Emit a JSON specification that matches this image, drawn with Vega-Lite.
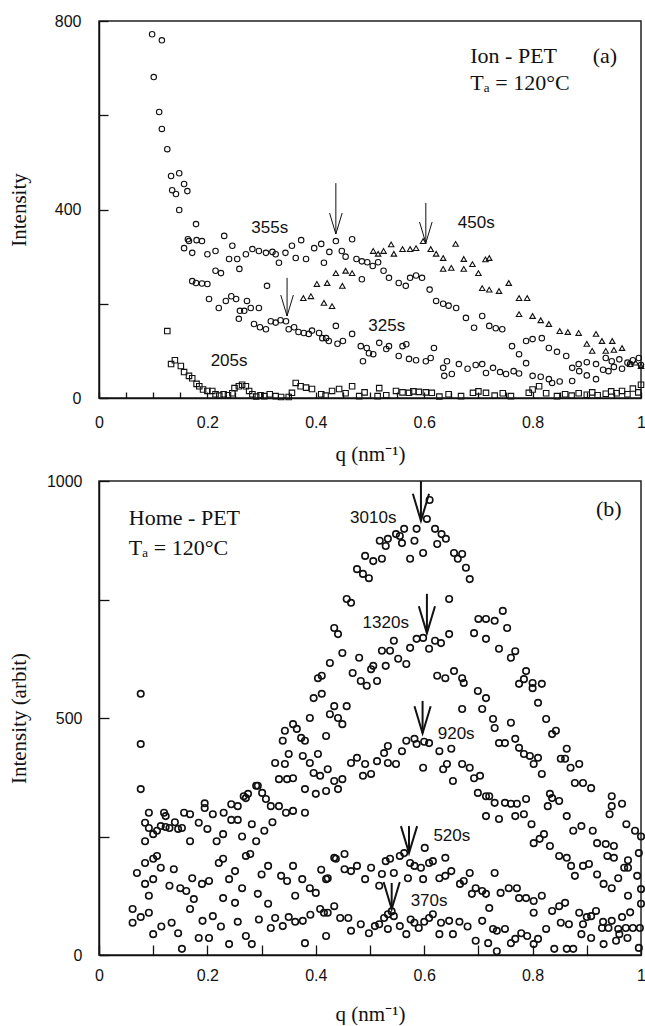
{
"$schema": "https://vega.github.io/schema/vega-lite/v6.json",
"background": "white",
"padding": {"left": 7, "top": 12, "right": 2, "bottom": 0},
"spacing": 83,
"bounds": "flush",
"config": {
  "view": {"stroke": "#222", "strokeWidth": 1.5},
  "axis": {"grid": false, "domainColor": "#111", "domainWidth": 1.5, "tickColor": "#111", "tickWidth": 1.3, "labelFont": "Liberation Sans", "labelFontSize": 16, "labelColor": "#111", "titleFont": "Liberation Serif", "titleFontSize": 21, "titleFontWeight": "normal", "titleColor": "#111", "labelFlush": false, "labelOverlap": false}
},
"datasets": {
  "a": [
{"s":"205s","q":0.126,"I":142},{"s":"205s","q":0.133,"I":72},{"s":"205s","q":0.14,"I":80},{"s":"205s","q":0.151,"I":68},{"s":"205s","q":0.157,"I":55},{"s":"205s","q":0.166,"I":47},{"s":"205s","q":0.172,"I":42},{"s":"205s","q":0.18,"I":30},{"s":"205s","q":0.185,"I":25},{"s":"205s","q":0.192,"I":18},{"s":"205s","q":0.2,"I":15},{"s":"205s","q":0.209,"I":15},{"s":"205s","q":0.215,"I":8},{"s":"205s","q":0.222,"I":5},{"s":"205s","q":0.23,"I":8},{"s":"205s","q":0.238,"I":6},{"s":"205s","q":0.246,"I":10},{"s":"205s","q":0.25,"I":21},{"s":"205s","q":0.258,"I":25},{"s":"205s","q":0.264,"I":28},{"s":"205s","q":0.271,"I":25},{"s":"205s","q":0.277,"I":15},{"s":"205s","q":0.283,"I":8},{"s":"205s","q":0.29,"I":3},{"s":"205s","q":0.298,"I":6},{"s":"205s","q":0.305,"I":4},{"s":"205s","q":0.315,"I":8},{"s":"205s","q":0.326,"I":4},{"s":"205s","q":0.336,"I":2},{"s":"205s","q":0.35,"I":2},{"s":"205s","q":0.356,"I":11},{"s":"205s","q":0.363,"I":32},{"s":"205s","q":0.372,"I":25},{"s":"205s","q":0.382,"I":22},{"s":"205s","q":0.393,"I":19},{"s":"205s","q":0.41,"I":8},{"s":"205s","q":0.418,"I":5},{"s":"205s","q":0.43,"I":15},{"s":"205s","q":0.443,"I":19},{"s":"205s","q":0.455,"I":10},{"s":"205s","q":0.467,"I":25},{"s":"205s","q":0.48,"I":4},{"s":"205s","q":0.49,"I":12},{"s":"205s","q":0.514,"I":4},{"s":"205s","q":0.517,"I":21},{"s":"205s","q":0.53,"I":6},{"s":"205s","q":0.548,"I":15},{"s":"205s","q":0.56,"I":12},{"s":"205s","q":0.572,"I":11},{"s":"205s","q":0.58,"I":14},{"s":"205s","q":0.59,"I":13},{"s":"205s","q":0.603,"I":12},{"s":"205s","q":0.614,"I":11},{"s":"205s","q":0.628,"I":3},{"s":"205s","q":0.645,"I":8},{"s":"205s","q":0.668,"I":4},{"s":"205s","q":0.69,"I":11},{"s":"205s","q":0.7,"I":14},{"s":"205s","q":0.714,"I":11},{"s":"205s","q":0.73,"I":5},{"s":"205s","q":0.745,"I":10},{"s":"205s","q":0.76,"I":4},{"s":"205s","q":0.793,"I":11},{"s":"205s","q":0.8,"I":18},{"s":"205s","q":0.812,"I":25},{"s":"205s","q":0.825,"I":10},{"s":"205s","q":0.845,"I":4},{"s":"205s","q":0.86,"I":8},{"s":"205s","q":0.872,"I":5},{"s":"205s","q":0.885,"I":10},{"s":"205s","q":0.9,"I":7},{"s":"205s","q":0.91,"I":12},{"s":"205s","q":0.92,"I":6},{"s":"205s","q":0.935,"I":9},{"s":"205s","q":0.945,"I":14},{"s":"205s","q":0.955,"I":10},{"s":"205s","q":0.965,"I":15},{"s":"205s","q":0.975,"I":8},{"s":"205s","q":0.985,"I":20},{"s":"205s","q":0.995,"I":12},{"s":"205s","q":1.0,"I":28},
{"s":"325s","q":0.172,"I":248},{"s":"325s","q":0.179,"I":244},{"s":"325s","q":0.19,"I":243},{"s":"325s","q":0.2,"I":242},{"s":"325s","q":0.203,"I":210},{"s":"325s","q":0.215,"I":270},{"s":"325s","q":0.221,"I":191},{"s":"325s","q":0.225,"I":265},{"s":"325s","q":0.234,"I":206},{"s":"325s","q":0.244,"I":216},{"s":"325s","q":0.253,"I":210},{"s":"325s","q":0.258,"I":168},{"s":"325s","q":0.26,"I":185},{"s":"325s","q":0.268,"I":185},{"s":"325s","q":0.273,"I":206},{"s":"325s","q":0.28,"I":191},{"s":"325s","q":0.286,"I":157},{"s":"325s","q":0.295,"I":191},{"s":"325s","q":0.297,"I":150},{"s":"325s","q":0.308,"I":146},{"s":"325s","q":0.31,"I":238},{"s":"325s","q":0.317,"I":163},{"s":"325s","q":0.326,"I":160},{"s":"325s","q":0.335,"I":165},{"s":"325s","q":0.345,"I":163},{"s":"325s","q":0.35,"I":146},{"s":"325s","q":0.36,"I":150},{"s":"325s","q":0.368,"I":140},{"s":"325s","q":0.378,"I":138},{"s":"325s","q":0.387,"I":136},{"s":"325s","q":0.393,"I":143},{"s":"325s","q":0.406,"I":138},{"s":"325s","q":0.412,"I":127},{"s":"325s","q":0.419,"I":127},{"s":"325s","q":0.424,"I":121},{"s":"325s","q":0.437,"I":153},{"s":"325s","q":0.44,"I":115},{"s":"325s","q":0.45,"I":121},{"s":"325s","q":0.467,"I":136},{"s":"325s","q":0.483,"I":110},{"s":"325s","q":0.487,"I":78},{"s":"325s","q":0.494,"I":106},{"s":"325s","q":0.498,"I":95},{"s":"325s","q":0.506,"I":93},{"s":"325s","q":0.517,"I":117},{"s":"325s","q":0.53,"I":104},{"s":"325s","q":0.535,"I":110},{"s":"325s","q":0.553,"I":89},{"s":"325s","q":0.56,"I":110},{"s":"325s","q":0.567,"I":114},{"s":"325s","q":0.572,"I":83},{"s":"325s","q":0.585,"I":80},{"s":"325s","q":0.603,"I":78},{"s":"325s","q":0.612,"I":85},{"s":"325s","q":0.618,"I":106},{"s":"325s","q":0.635,"I":64},{"s":"325s","q":0.637,"I":47},{"s":"325s","q":0.642,"I":78},{"s":"325s","q":0.651,"I":51},{"s":"325s","q":0.664,"I":72},{"s":"325s","q":0.68,"I":62},{"s":"325s","q":0.695,"I":70},{"s":"325s","q":0.707,"I":72},{"s":"325s","q":0.714,"I":53},{"s":"325s","q":0.727,"I":64},{"s":"325s","q":0.74,"I":55},{"s":"325s","q":0.751,"I":51},{"s":"325s","q":0.765,"I":57},{"s":"325s","q":0.775,"I":52},{"s":"325s","q":0.788,"I":74},{"s":"325s","q":0.8,"I":47},{"s":"325s","q":0.815,"I":45},{"s":"325s","q":0.83,"I":40},{"s":"325s","q":0.836,"I":32},{"s":"325s","q":0.85,"I":35},{"s":"325s","q":0.873,"I":36},{"s":"325s","q":0.886,"I":57},{"s":"325s","q":0.9,"I":48},{"s":"325s","q":0.917,"I":40},{"s":"325s","q":0.93,"I":60},{"s":"325s","q":0.94,"I":57},{"s":"325s","q":0.946,"I":78},{"s":"325s","q":0.96,"I":82},{"s":"325s","q":0.975,"I":75},{"s":"325s","q":0.985,"I":80},{"s":"325s","q":0.996,"I":85},
{"s":"355s","q":0.098,"I":772},{"s":"355s","q":0.116,"I":759},{"s":"355s","q":0.101,"I":681},{"s":"355s","q":0.111,"I":607},{"s":"355s","q":0.116,"I":571},{"s":"355s","q":0.126,"I":528},{"s":"355s","q":0.133,"I":471},{"s":"355s","q":0.135,"I":441},{"s":"355s","q":0.142,"I":433},{"s":"355s","q":0.148,"I":477},{"s":"355s","q":0.157,"I":454},{"s":"355s","q":0.163,"I":439},{"s":"355s","q":0.148,"I":399},{"s":"355s","q":0.157,"I":318},{"s":"355s","q":0.164,"I":337},{"s":"355s","q":0.166,"I":333},{"s":"355s","q":0.172,"I":308},{"s":"355s","q":0.179,"I":369},{"s":"355s","q":0.18,"I":335},{"s":"355s","q":0.19,"I":333},{"s":"355s","q":0.2,"I":305},{"s":"355s","q":0.215,"I":312},{"s":"355s","q":0.231,"I":344},{"s":"355s","q":0.24,"I":295},{"s":"355s","q":0.246,"I":323},{"s":"355s","q":0.255,"I":295},{"s":"355s","q":0.259,"I":274},{"s":"355s","q":0.271,"I":305},{"s":"355s","q":0.283,"I":316},{"s":"355s","q":0.295,"I":312},{"s":"355s","q":0.308,"I":308},{"s":"355s","q":0.32,"I":310},{"s":"355s","q":0.326,"I":305},{"s":"355s","q":0.332,"I":287},{"s":"355s","q":0.344,"I":308},{"s":"355s","q":0.356,"I":323},{"s":"355s","q":0.363,"I":297},{"s":"355s","q":0.373,"I":335},{"s":"355s","q":0.382,"I":295},{"s":"355s","q":0.397,"I":318},{"s":"355s","q":0.41,"I":327},{"s":"355s","q":0.415,"I":287},{"s":"355s","q":0.425,"I":310},{"s":"355s","q":0.437,"I":333},{"s":"355s","q":0.448,"I":312},{"s":"355s","q":0.455,"I":300},{"s":"355s","q":0.467,"I":337},{"s":"355s","q":0.475,"I":295},{"s":"355s","q":0.485,"I":290},{"s":"355s","q":0.485,"I":252},{"s":"355s","q":0.495,"I":288},{"s":"355s","q":0.505,"I":280},{"s":"355s","q":0.515,"I":288},{"s":"355s","q":0.525,"I":270},{"s":"355s","q":0.535,"I":255},{"s":"355s","q":0.553,"I":244},{"s":"355s","q":0.566,"I":238},{"s":"355s","q":0.574,"I":255},{"s":"355s","q":0.585,"I":260},{"s":"355s","q":0.596,"I":255},{"s":"355s","q":0.61,"I":230},{"s":"355s","q":0.622,"I":206},{"s":"355s","q":0.635,"I":200},{"s":"355s","q":0.645,"I":196},{"s":"355s","q":0.659,"I":191},{"s":"355s","q":0.677,"I":170},{"s":"355s","q":0.692,"I":149},{"s":"355s","q":0.707,"I":174},{"s":"355s","q":0.72,"I":153},{"s":"355s","q":0.732,"I":148},{"s":"355s","q":0.744,"I":146},{"s":"355s","q":0.762,"I":110},{"s":"355s","q":0.775,"I":93},{"s":"355s","q":0.788,"I":121},{"s":"355s","q":0.8,"I":125},{"s":"355s","q":0.817,"I":127},{"s":"355s","q":0.83,"I":106},{"s":"355s","q":0.845,"I":98},{"s":"355s","q":0.862,"I":89},{"s":"355s","q":0.873,"I":64},{"s":"355s","q":0.885,"I":72},{"s":"355s","q":0.9,"I":76},{"s":"355s","q":0.917,"I":72},{"s":"355s","q":0.935,"I":85},{"s":"355s","q":0.95,"I":66},{"s":"355s","q":0.965,"I":62},{"s":"355s","q":0.98,"I":72},{"s":"355s","q":1.0,"I":70},
{"s":"450s","q":0.377,"I":212},{"s":"450s","q":0.391,"I":216},{"s":"450s","q":0.402,"I":242},{"s":"450s","q":0.415,"I":202},{"s":"450s","q":0.421,"I":244},{"s":"450s","q":0.43,"I":195},{"s":"450s","q":0.437,"I":265},{"s":"450s","q":0.449,"I":238},{"s":"450s","q":0.455,"I":270},{"s":"450s","q":0.467,"I":265},{"s":"450s","q":0.506,"I":312},{"s":"450s","q":0.515,"I":306},{"s":"450s","q":0.525,"I":312},{"s":"450s","q":0.539,"I":326},{"s":"450s","q":0.544,"I":306},{"s":"450s","q":0.56,"I":316},{"s":"450s","q":0.574,"I":316},{"s":"450s","q":0.585,"I":318},{"s":"450s","q":0.598,"I":333},{"s":"450s","q":0.612,"I":316},{"s":"450s","q":0.622,"I":306},{"s":"450s","q":0.635,"I":297},{"s":"450s","q":0.635,"I":274},{"s":"450s","q":0.65,"I":276},{"s":"450s","q":0.658,"I":327},{"s":"450s","q":0.673,"I":295},{"s":"450s","q":0.673,"I":274},{"s":"450s","q":0.689,"I":284},{"s":"450s","q":0.7,"I":265},{"s":"450s","q":0.713,"I":294},{"s":"450s","q":0.72,"I":297},{"s":"450s","q":0.707,"I":233},{"s":"450s","q":0.72,"I":230},{"s":"450s","q":0.738,"I":227},{"s":"450s","q":0.756,"I":244},{"s":"450s","q":0.775,"I":212},{"s":"450s","q":0.79,"I":212},{"s":"450s","q":0.775,"I":178},{"s":"450s","q":0.8,"I":174},{"s":"450s","q":0.815,"I":165},{"s":"450s","q":0.83,"I":157},{"s":"450s","q":0.85,"I":142},{"s":"450s","q":0.865,"I":140},{"s":"450s","q":0.885,"I":138},{"s":"450s","q":0.9,"I":115},{"s":"450s","q":0.917,"I":136},{"s":"450s","q":0.91,"I":100},{"s":"450s","q":0.928,"I":121},{"s":"450s","q":0.947,"I":121},{"s":"450s","q":0.935,"I":100},{"s":"450s","q":0.95,"I":102},{"s":"450s","q":0.965,"I":106},{"s":"450s","q":0.98,"I":72},{"s":"450s","q":0.99,"I":75},{"s":"450s","q":1.0,"I":68}
  ],
  "b": [
{"s":"370s","q":0.062,"I":97},{"s":"370s","q":0.062,"I":68},{"s":"370s","q":0.077,"I":80},{"s":"370s","q":0.092,"I":89},{"s":"370s","q":0.1,"I":44},{"s":"370s","q":0.115,"I":60},{"s":"370s","q":0.134,"I":68},{"s":"370s","q":0.146,"I":46},{"s":"370s","q":0.153,"I":13},{"s":"370s","q":0.168,"I":97},{"s":"370s","q":0.184,"I":36},{"s":"370s","q":0.191,"I":72},{"s":"370s","q":0.203,"I":36},{"s":"370s","q":0.21,"I":82},{"s":"370s","q":0.225,"I":60},{"s":"370s","q":0.24,"I":23},{"s":"370s","q":0.256,"I":70},{"s":"370s","q":0.271,"I":40},{"s":"370s","q":0.282,"I":23},{"s":"370s","q":0.295,"I":75},{"s":"370s","q":0.317,"I":57},{"s":"370s","q":0.325,"I":78},{"s":"370s","q":0.339,"I":61},{"s":"370s","q":0.35,"I":80},{"s":"370s","q":0.362,"I":70},{"s":"370s","q":0.376,"I":72},{"s":"370s","q":0.38,"I":25},{"s":"370s","q":0.39,"I":85},{"s":"370s","q":0.408,"I":97},{"s":"370s","q":0.415,"I":89},{"s":"370s","q":0.419,"I":40},{"s":"370s","q":0.422,"I":89},{"s":"370s","q":0.434,"I":103},{"s":"370s","q":0.445,"I":78},{"s":"370s","q":0.46,"I":78},{"s":"370s","q":0.465,"I":51},{"s":"370s","q":0.483,"I":65},{"s":"370s","q":0.498,"I":46},{"s":"370s","q":0.509,"I":61},{"s":"370s","q":0.517,"I":65},{"s":"370s","q":0.526,"I":78},{"s":"370s","q":0.533,"I":86},{"s":"370s","q":0.54,"I":92},{"s":"370s","q":0.533,"I":55},{"s":"370s","q":0.544,"I":82},{"s":"370s","q":0.555,"I":61},{"s":"370s","q":0.567,"I":44},{"s":"370s","q":0.575,"I":75},{"s":"370s","q":0.582,"I":68},{"s":"370s","q":0.59,"I":57},{"s":"370s","q":0.6,"I":70},{"s":"370s","q":0.609,"I":78},{"s":"370s","q":0.616,"I":86},{"s":"370s","q":0.628,"I":44},{"s":"370s","q":0.631,"I":68},{"s":"370s","q":0.646,"I":72},{"s":"370s","q":0.653,"I":44},{"s":"370s","q":0.665,"I":70},{"s":"370s","q":0.68,"I":60},{"s":"370s","q":0.695,"I":30},{"s":"370s","q":0.707,"I":72},{"s":"370s","q":0.718,"I":25},{"s":"370s","q":0.727,"I":55},{"s":"370s","q":0.734,"I":51},{"s":"370s","q":0.734,"I":8},{"s":"370s","q":0.749,"I":55},{"s":"370s","q":0.76,"I":25},{"s":"370s","q":0.768,"I":34},{"s":"370s","q":0.779,"I":46},{"s":"370s","q":0.79,"I":40},{"s":"370s","q":0.802,"I":23},{"s":"370s","q":0.81,"I":34},{"s":"370s","q":0.825,"I":55},{"s":"370s","q":0.84,"I":13},{"s":"370s","q":0.852,"I":68},{"s":"370s","q":0.863,"I":13},{"s":"370s","q":0.867,"I":65},{"s":"370s","q":0.875,"I":13},{"s":"370s","q":0.89,"I":44},{"s":"370s","q":0.893,"I":65},{"s":"370s","q":0.908,"I":36},{"s":"370s","q":0.908,"I":82},{"s":"370s","q":0.928,"I":57},{"s":"370s","q":0.931,"I":23},{"s":"370s","q":0.94,"I":57},{"s":"370s","q":0.954,"I":30},{"s":"370s","q":0.958,"I":55},{"s":"370s","q":0.96,"I":44},{"s":"370s","q":0.972,"I":57},{"s":"370s","q":0.975,"I":36},{"s":"370s","q":0.985,"I":57},{"s":"370s","q":0.996,"I":15},{"s":"370s","q":0.998,"I":57},
{"s":"520s","q":0.07,"I":173},{"s":"520s","q":0.085,"I":194},{"s":"520s","q":0.085,"I":150},{"s":"520s","q":0.092,"I":125},{"s":"520s","q":0.1,"I":160},{"s":"520s","q":0.1,"I":203},{"s":"520s","q":0.107,"I":209},{"s":"520s","q":0.114,"I":184},{"s":"520s","q":0.13,"I":146},{"s":"520s","q":0.138,"I":181},{"s":"520s","q":0.15,"I":141},{"s":"520s","q":0.161,"I":135},{"s":"520s","q":0.172,"I":162},{"s":"520s","q":0.175,"I":118},{"s":"520s","q":0.19,"I":150},{"s":"520s","q":0.203,"I":156},{"s":"520s","q":0.221,"I":194},{"s":"520s","q":0.229,"I":203},{"s":"520s","q":0.229,"I":120},{"s":"520s","q":0.24,"I":160},{"s":"520s","q":0.251,"I":177},{"s":"520s","q":0.251,"I":110},{"s":"520s","q":0.264,"I":141},{"s":"520s","q":0.271,"I":209},{"s":"520s","q":0.279,"I":213},{"s":"520s","q":0.293,"I":129},{"s":"520s","q":0.3,"I":170},{"s":"520s","q":0.312,"I":188},{"s":"520s","q":0.312,"I":108},{"s":"520s","q":0.336,"I":167},{"s":"520s","q":0.347,"I":156},{"s":"520s","q":0.358,"I":188},{"s":"520s","q":0.362,"I":125},{"s":"520s","q":0.375,"I":160},{"s":"520s","q":0.389,"I":141},{"s":"520s","q":0.4,"I":131},{"s":"520s","q":0.41,"I":180},{"s":"520s","q":0.419,"I":160},{"s":"520s","q":0.422,"I":162},{"s":"520s","q":0.434,"I":205},{"s":"520s","q":0.437,"I":203},{"s":"520s","q":0.453,"I":213},{"s":"520s","q":0.453,"I":181},{"s":"520s","q":0.465,"I":177},{"s":"520s","q":0.476,"I":188},{"s":"520s","q":0.491,"I":160},{"s":"520s","q":0.502,"I":184},{"s":"520s","q":0.517,"I":146},{"s":"520s","q":0.522,"I":171},{"s":"520s","q":0.529,"I":198},{"s":"520s","q":0.537,"I":203},{"s":"520s","q":0.544,"I":173},{"s":"520s","q":0.555,"I":209},{"s":"520s","q":0.563,"I":215},{"s":"520s","q":0.57,"I":162},{"s":"520s","q":0.574,"I":194},{"s":"520s","q":0.582,"I":188},{"s":"520s","q":0.594,"I":184},{"s":"520s","q":0.598,"I":160},{"s":"520s","q":0.601,"I":226},{"s":"520s","q":0.609,"I":194},{"s":"520s","q":0.616,"I":198},{"s":"520s","q":0.628,"I":162},{"s":"520s","q":0.639,"I":167},{"s":"520s","q":0.639,"I":205},{"s":"520s","q":0.65,"I":177},{"s":"520s","q":0.666,"I":150},{"s":"520s","q":0.673,"I":156},{"s":"520s","q":0.684,"I":173},{"s":"520s","q":0.688,"I":129},{"s":"520s","q":0.695,"I":141},{"s":"520s","q":0.707,"I":135},{"s":"520s","q":0.714,"I":129},{"s":"520s","q":0.72,"I":99},{"s":"520s","q":0.73,"I":173},{"s":"520s","q":0.741,"I":131},{"s":"520s","q":0.756,"I":141},{"s":"520s","q":0.771,"I":141},{"s":"520s","q":0.775,"I":120},{"s":"520s","q":0.788,"I":120},{"s":"520s","q":0.802,"I":114},{"s":"520s","q":0.802,"I":89},{"s":"520s","q":0.817,"I":125},{"s":"520s","q":0.836,"I":93},{"s":"520s","q":0.849,"I":103},{"s":"520s","q":0.86,"I":110},{"s":"520s","q":0.886,"I":89},{"s":"520s","q":0.9,"I":80},{"s":"520s","q":0.917,"I":93},{"s":"520s","q":0.93,"I":70},{"s":"520s","q":0.946,"I":72},{"s":"520s","q":0.965,"I":80},{"s":"520s","q":0.98,"I":90},{"s":"520s","q":1.0,"I":108},
{"s":"920s","q":0.077,"I":350},{"s":"920s","q":0.085,"I":240},{"s":"920s","q":0.092,"I":268},{"s":"920s","q":0.107,"I":262},{"s":"920s","q":0.114,"I":272},{"s":"920s","q":0.13,"I":268},{"s":"920s","q":0.146,"I":266},{"s":"920s","q":0.153,"I":268},{"s":"920s","q":0.168,"I":240},{"s":"920s","q":0.184,"I":279},{"s":"920s","q":0.2,"I":266},{"s":"920s","q":0.217,"I":240},{"s":"920s","q":0.229,"I":255},{"s":"920s","q":0.244,"I":285},{"s":"920s","q":0.256,"I":285},{"s":"920s","q":0.264,"I":250},{"s":"920s","q":0.282,"I":276},{"s":"920s","q":0.29,"I":240},{"s":"920s","q":0.305,"I":262},{"s":"920s","q":0.32,"I":280},{"s":"920s","q":0.332,"I":314},{"s":"920s","q":0.345,"I":300},{"s":"920s","q":0.358,"I":304},{"s":"920s","q":0.38,"I":300},{"s":"920s","q":0.38,"I":350},{"s":"920s","q":0.4,"I":340},{"s":"920s","q":0.419,"I":346},{"s":"920s","q":0.441,"I":350},{"s":"920s","q":0.434,"I":367},{"s":"920s","q":0.449,"I":371},{"s":"920s","q":0.465,"I":405},{"s":"920s","q":0.476,"I":416},{"s":"920s","q":0.487,"I":378},{"s":"920s","q":0.491,"I":403},{"s":"920s","q":0.502,"I":382},{"s":"920s","q":0.513,"I":409},{"s":"920s","q":0.526,"I":426},{"s":"920s","q":0.533,"I":405},{"s":"920s","q":0.533,"I":441},{"s":"920s","q":0.548,"I":403},{"s":"920s","q":0.559,"I":430},{"s":"920s","q":0.567,"I":452},{"s":"920s","q":0.582,"I":456},{"s":"920s","q":0.586,"I":445},{"s":"920s","q":0.598,"I":395},{"s":"920s","q":0.6,"I":450},{"s":"920s","q":0.609,"I":447},{"s":"920s","q":0.628,"I":430},{"s":"920s","q":0.635,"I":392},{"s":"920s","q":0.642,"I":403},{"s":"920s","q":0.65,"I":435},{"s":"920s","q":0.653,"I":367},{"s":"920s","q":0.67,"I":403},{"s":"920s","q":0.684,"I":395},{"s":"920s","q":0.692,"I":373},{"s":"920s","q":0.699,"I":342},{"s":"920s","q":0.703,"I":378},{"s":"920s","q":0.714,"I":335},{"s":"920s","q":0.72,"I":335},{"s":"920s","q":0.73,"I":321},{"s":"920s","q":0.714,"I":293},{"s":"920s","q":0.738,"I":287},{"s":"920s","q":0.749,"I":321},{"s":"920s","q":0.76,"I":319},{"s":"920s","q":0.768,"I":293},{"s":"920s","q":0.771,"I":319},{"s":"920s","q":0.784,"I":297},{"s":"920s","q":0.788,"I":329},{"s":"920s","q":0.798,"I":276},{"s":"920s","q":0.802,"I":236},{"s":"920s","q":0.813,"I":245},{"s":"920s","q":0.821,"I":255},{"s":"920s","q":0.832,"I":230},{"s":"920s","q":0.849,"I":209},{"s":"920s","q":0.863,"I":205},{"s":"920s","q":0.871,"I":188},{"s":"920s","q":0.878,"I":167},{"s":"920s","q":0.893,"I":188},{"s":"920s","q":0.904,"I":192},{"s":"920s","q":0.919,"I":170},{"s":"920s","q":0.931,"I":150},{"s":"920s","q":0.938,"I":209},{"s":"920s","q":0.946,"I":141},{"s":"920s","q":0.95,"I":205},{"s":"920s","q":0.958,"I":162},{"s":"920s","q":0.969,"I":184},{"s":"920s","q":0.976,"I":184},{"s":"920s","q":0.976,"I":125},{"s":"920s","q":0.993,"I":167},{"s":"920s","q":1.0,"I":139},
{"s":"1320s","q":0.077,"I":445},{"s":"1320s","q":0.085,"I":279},{"s":"1320s","q":0.1,"I":255},{"s":"1320s","q":0.123,"I":270},{"s":"1320s","q":0.123,"I":293},{"s":"1320s","q":0.157,"I":300},{"s":"1320s","q":0.168,"I":297},{"s":"1320s","q":0.195,"I":310},{"s":"1320s","q":0.21,"I":297},{"s":"1320s","q":0.244,"I":318},{"s":"1320s","q":0.256,"I":314},{"s":"1320s","q":0.271,"I":331},{"s":"1320s","q":0.29,"I":357},{"s":"1320s","q":0.301,"I":342},{"s":"1320s","q":0.317,"I":314},{"s":"1320s","q":0.325,"I":405},{"s":"1320s","q":0.343,"I":403},{"s":"1320s","q":0.35,"I":424},{"s":"1320s","q":0.376,"I":420},{"s":"1320s","q":0.389,"I":405},{"s":"1320s","q":0.404,"I":424},{"s":"1320s","q":0.396,"I":384},{"s":"1320s","q":0.408,"I":378},{"s":"1320s","q":0.422,"I":392},{"s":"1320s","q":0.419,"I":462},{"s":"1320s","q":0.426,"I":508},{"s":"1320s","q":0.434,"I":525},{"s":"1320s","q":0.441,"I":500},{"s":"1320s","q":0.449,"I":487},{"s":"1320s","q":0.457,"I":525},{"s":"1320s","q":0.468,"I":595},{"s":"1320s","q":0.48,"I":627},{"s":"1320s","q":0.483,"I":578},{"s":"1320s","q":0.494,"I":568},{"s":"1320s","q":0.502,"I":603},{"s":"1320s","q":0.506,"I":610},{"s":"1320s","q":0.513,"I":578},{"s":"1320s","q":0.522,"I":642},{"s":"1320s","q":0.529,"I":610},{"s":"1320s","q":0.537,"I":642},{"s":"1320s","q":0.544,"I":663},{"s":"1320s","q":0.552,"I":625},{"s":"1320s","q":0.567,"I":614},{"s":"1320s","q":0.574,"I":648},{"s":"1320s","q":0.586,"I":667},{"s":"1320s","q":0.598,"I":669},{"s":"1320s","q":0.609,"I":646},{"s":"1320s","q":0.62,"I":663},{"s":"1320s","q":0.624,"I":589},{"s":"1320s","q":0.631,"I":658},{"s":"1320s","q":0.639,"I":584},{"s":"1320s","q":0.646,"I":677},{"s":"1320s","q":0.655,"I":599},{"s":"1320s","q":0.67,"I":584},{"s":"1320s","q":0.673,"I":574},{"s":"1320s","q":0.67,"I":519},{"s":"1320s","q":0.699,"I":557},{"s":"1320s","q":0.707,"I":519},{"s":"1320s","q":0.714,"I":542},{"s":"1320s","q":0.727,"I":498},{"s":"1320s","q":0.73,"I":479},{"s":"1320s","q":0.738,"I":447},{"s":"1320s","q":0.749,"I":447},{"s":"1320s","q":0.76,"I":490},{"s":"1320s","q":0.768,"I":456},{"s":"1320s","q":0.775,"I":437},{"s":"1320s","q":0.784,"I":424},{"s":"1320s","q":0.795,"I":420},{"s":"1320s","q":0.802,"I":403},{"s":"1320s","q":0.81,"I":416},{"s":"1320s","q":0.817,"I":382},{"s":"1320s","q":0.828,"I":314},{"s":"1320s","q":0.832,"I":340},{"s":"1320s","q":0.836,"I":331},{"s":"1320s","q":0.849,"I":325},{"s":"1320s","q":0.863,"I":293},{"s":"1320s","q":0.875,"I":262},{"s":"1320s","q":0.89,"I":272},{"s":"1320s","q":0.911,"I":262},{"s":"1320s","q":0.919,"I":236},{"s":"1320s","q":0.935,"I":234},{"s":"1320s","q":0.95,"I":230},{"s":"1320s","q":0.976,"I":200},{"s":"1320s","q":0.996,"I":215},
{"s":"3010s","q":0.077,"I":551},{"s":"3010s","q":0.092,"I":300},{"s":"3010s","q":0.12,"I":300},{"s":"3010s","q":0.14,"I":280},{"s":"3010s","q":0.195,"I":320},{"s":"3010s","q":0.23,"I":300},{"s":"3010s","q":0.267,"I":335},{"s":"3010s","q":0.275,"I":340},{"s":"3010s","q":0.293,"I":357},{"s":"3010s","q":0.308,"I":329},{"s":"3010s","q":0.332,"I":371},{"s":"3010s","q":0.347,"I":371},{"s":"3010s","q":0.358,"I":373},{"s":"3010s","q":0.339,"I":452},{"s":"3010s","q":0.343,"I":473},{"s":"3010s","q":0.358,"I":487},{"s":"3010s","q":0.365,"I":477},{"s":"3010s","q":0.373,"I":458},{"s":"3010s","q":0.38,"I":452},{"s":"3010s","q":0.389,"I":500},{"s":"3010s","q":0.396,"I":542},{"s":"3010s","q":0.404,"I":584},{"s":"3010s","q":0.411,"I":551},{"s":"3010s","q":0.411,"I":589},{"s":"3010s","q":0.426,"I":616},{"s":"3010s","q":0.434,"I":690},{"s":"3010s","q":0.441,"I":677},{"s":"3010s","q":0.449,"I":637},{"s":"3010s","q":0.457,"I":751},{"s":"3010s","q":0.465,"I":743},{"s":"3010s","q":0.476,"I":814},{"s":"3010s","q":0.487,"I":804},{"s":"3010s","q":0.491,"I":842},{"s":"3010s","q":0.498,"I":795},{"s":"3010s","q":0.506,"I":831},{"s":"3010s","q":0.518,"I":874},{"s":"3010s","q":0.522,"I":836},{"s":"3010s","q":0.529,"I":863},{"s":"3010s","q":0.533,"I":878},{"s":"3010s","q":0.548,"I":888},{"s":"3010s","q":0.555,"I":884},{"s":"3010s","q":0.559,"I":869},{"s":"3010s","q":0.563,"I":899},{"s":"3010s","q":0.574,"I":836},{"s":"3010s","q":0.582,"I":874},{"s":"3010s","q":0.586,"I":899},{"s":"3010s","q":0.598,"I":848},{"s":"3010s","q":0.605,"I":920},{"s":"3010s","q":0.61,"I":960},{"s":"3010s","q":0.62,"I":899},{"s":"3010s","q":0.624,"I":867},{"s":"3010s","q":0.632,"I":888},{"s":"3010s","q":0.64,"I":878},{"s":"3010s","q":0.646,"I":751},{"s":"3010s","q":0.655,"I":848},{"s":"3010s","q":0.662,"I":836},{"s":"3010s","q":0.67,"I":846},{"s":"3010s","q":0.677,"I":817},{"s":"3010s","q":0.684,"I":793},{"s":"3010s","q":0.692,"I":679},{"s":"3010s","q":0.7,"I":709},{"s":"3010s","q":0.714,"I":667},{"s":"3010s","q":0.714,"I":709},{"s":"3010s","q":0.73,"I":705},{"s":"3010s","q":0.738,"I":646},{"s":"3010s","q":0.745,"I":726},{"s":"3010s","q":0.753,"I":690},{"s":"3010s","q":0.76,"I":627},{"s":"3010s","q":0.768,"I":641},{"s":"3010s","q":0.775,"I":572},{"s":"3010s","q":0.784,"I":582},{"s":"3010s","q":0.788,"I":599},{"s":"3010s","q":0.8,"I":574},{"s":"3010s","q":0.8,"I":563},{"s":"3010s","q":0.81,"I":532},{"s":"3010s","q":0.817,"I":572},{"s":"3010s","q":0.825,"I":498},{"s":"3010s","q":0.836,"I":466},{"s":"3010s","q":0.843,"I":473},{"s":"3010s","q":0.852,"I":414},{"s":"3010s","q":0.86,"I":414},{"s":"3010s","q":0.863,"I":435},{"s":"3010s","q":0.87,"I":395},{"s":"3010s","q":0.878,"I":363},{"s":"3010s","q":0.886,"I":403},{"s":"3010s","q":0.893,"I":363},{"s":"3010s","q":0.908,"I":352},{"s":"3010s","q":0.942,"I":297},{"s":"3010s","q":0.946,"I":314},{"s":"3010s","q":0.946,"I":335},{"s":"3010s","q":0.965,"I":319},{"s":"3010s","q":0.973,"I":276},{"s":"3010s","q":0.989,"I":262},{"s":"3010s","q":1.0,"I":250}
  ],
  "arrA": [{"q":0.437,"y1":456,"y2":348},{"q":0.603,"y1":414,"y2":329},{"q":0.347,"y1":255,"y2":174}],
  "arrB": [{"q":0.594,"y1":1000,"y2":916},{"q":0.605,"y1":762,"y2":679},{"q":0.597,"y1":536,"y2":468},{"q":0.572,"y1":272,"y2":215},{"q":0.54,"y1":152,"y2":97}],
  "labA": [{"q":0.315,"I":361,"t":"355s"},{"q":0.696,"I":371,"t":"450s"},{"q":0.531,"I":153,"t":"325s"},{"q":0.24,"I":79,"t":"205s"}],
  "labB": [{"q":0.506,"I":922,"t":"3010s"},{"q":0.529,"I":700,"t":"1320s"},{"q":0.659,"I":466,"t":"920s"},{"q":0.651,"I":251,"t":"520s"},{"q":0.609,"I":114,"t":"370s"}],
  "annA": [{"q":0.685,"I":726,"t":"Ion - PET"},{"q":0.685,"I":668,"t":"Tₐ = 120°C"},{"q":0.911,"I":726,"t":"(a)"}],
  "annB": [{"q":0.055,"I":922,"t":"Home - PET"},{"q":0.055,"I":859,"t":"Tₐ = 120°C"},{"q":0.917,"I":941,"t":"(b)"}]
},
"vconcat": [
  {
    "width": 542, "height": 377,
    "encoding": {
      "x": {"field": "q", "type": "quantitative", "scale": {"domain": [0, 1], "nice": false, "zero": false},
        "axis": {"title": "q (nm⁻¹)", "values": [0,0.05,0.1,0.15,0.2,0.25,0.3,0.35,0.4,0.45,0.5,0.55,0.6,0.65,0.7,0.75,0.8,0.85,0.9,0.95,1], "labelExpr": "round(datum.value*100) % 20 == 0 ? '' + datum.value : ''", "tickSize": -6, "labelPadding": 22, "titleY": 45}}
    },
    "layer": [
      {"data": {"name": "a"}, "mark": {"type": "point", "filled": false, "size": 30, "strokeWidth": 1.1, "color": "#111", "opacity": 1},
       "encoding": {
         "y": {"field": "I", "type": "quantitative", "scale": {"domain": [0, 800], "nice": false},
           "axis": {"title": "Intensity", "values": [0,200,400,600,800], "labelExpr": "datum.value % 400 == 0 ? datum.label : ''", "tickSize": -9, "labelPadding": 27, "titleX": -70}},
         "shape": {"field": "s", "type": "nominal", "scale": {"domain": ["205s","325s","355s","450s"], "range": ["square","circle","circle","triangle-up"]}, "legend": null}
       }},
      {"data": {"name": "arrA"}, "mark": {"type": "rule", "color": "#111", "strokeWidth": 1},
       "encoding": {"y": {"field": "y1", "type": "quantitative"}, "y2": {"field": "y2"}}},
      {"data": {"name": "arrA"}, "mark": {"type": "point", "shape": "M-1.2,-4L0,0L1.2,-4", "filled": false, "size": 110, "color": "#111", "strokeWidth": 1, "opacity": 1},
       "encoding": {"y": {"field": "y2", "type": "quantitative"}}},
      {"data": {"name": "labA"}, "mark": {"type": "text", "font": "Liberation Sans", "fontSize": 17, "color": "#111", "align": "center", "baseline": "middle"},
       "encoding": {"y": {"field": "I", "type": "quantitative"}, "text": {"field": "t"}}},
      {"data": {"name": "annA"}, "mark": {"type": "text", "font": "Liberation Serif", "fontSize": 22, "color": "#111", "align": "left", "baseline": "middle"},
       "encoding": {"y": {"field": "I", "type": "quantitative"}, "text": {"field": "t"}}}
    ]
  },
  {
    "width": 542, "height": 474,
    "encoding": {
      "x": {"field": "q", "type": "quantitative", "scale": {"domain": [0, 1], "nice": false, "zero": false},
        "axis": {"title": "q (nm⁻¹)", "values": [0,0.1,0.2,0.3,0.4,0.5,0.6,0.7,0.8,0.9,1], "labelExpr": "round(datum.value*100) % 20 == 0 ? '' + datum.value : ''", "tickSize": -10, "labelPadding": 22, "titleY": 48}}
    },
    "layer": [
      {"data": {"name": "b"}, "mark": {"type": "point", "filled": false, "size": 42, "strokeWidth": 1.6, "color": "#111", "shape": "circle", "opacity": 1},
       "encoding": {
         "y": {"field": "I", "type": "quantitative", "scale": {"domain": [0, 1000], "nice": false},
           "axis": {"title": "Intensity (arbit)", "format": "d", "values": [0,250,500,750,1000], "labelExpr": "datum.value % 500 == 0 ? datum.label : ''", "tickSize": -10, "labelPadding": 27, "titleX": -70}}
       }},
      {"data": {"name": "arrB"}, "mark": {"type": "rule", "color": "#111", "strokeWidth": 2},
       "encoding": {"y": {"field": "y1", "type": "quantitative"}, "y2": {"field": "y2"}}},
      {"data": {"name": "arrB"}, "mark": {"type": "point", "shape": "M-1.2,-4L0,0L1.2,-4", "filled": false, "size": 182, "color": "#111", "strokeWidth": 2, "opacity": 1},
       "encoding": {"y": {"field": "y2", "type": "quantitative"}}},
      {"data": {"name": "labB"}, "mark": {"type": "text", "font": "Liberation Sans", "fontSize": 17, "color": "#111", "align": "center", "baseline": "middle"},
       "encoding": {"y": {"field": "I", "type": "quantitative"}, "text": {"field": "t"}}},
      {"data": {"name": "annB"}, "mark": {"type": "text", "font": "Liberation Serif", "fontSize": 22, "color": "#111", "align": "left", "baseline": "middle"},
       "encoding": {"y": {"field": "I", "type": "quantitative"}, "text": {"field": "t"}}}
    ]
  }
]
}
